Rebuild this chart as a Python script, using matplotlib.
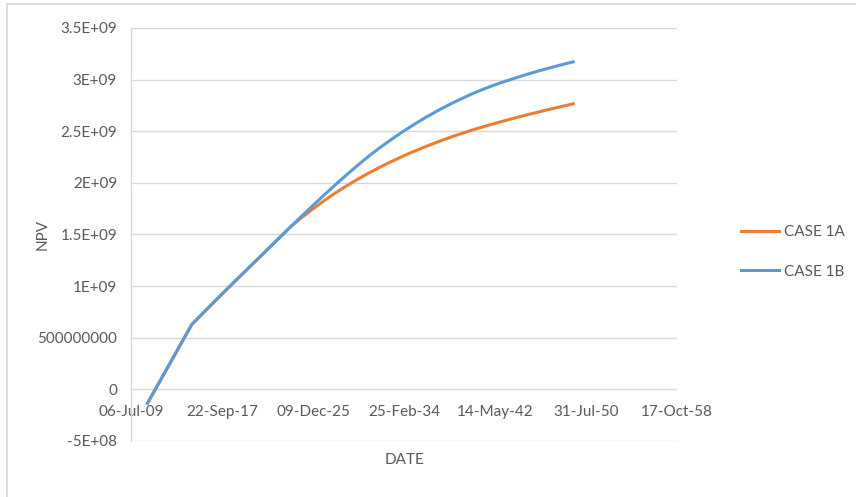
import datetime as dt
import matplotlib
matplotlib.use("Agg")
import matplotlib.pyplot as plt
import matplotlib.dates as mdates
from matplotlib.lines import Line2D

# NPV per case, one point per year (1 Jan), last point part way through 2049
dates = [dt.datetime(y, 1, 1) for y in range(2011, 2049)] + [dt.datetime(2049, 6, 1)]

shared = [-1.35e8, 0.56e8, 2.47e8, 4.38e8, 6.29e8, 7.37e8, 8.45e8, 9.52e8,
          1.058e9, 1.163e9, 1.268e9, 1.373e9, 1.478e9, 1.583e9]
case_1a = shared + [1.671e9, 1.754e9, 1.832e9, 1.905e9, 1.973e9, 2.037e9,
                    2.097e9, 2.153e9, 2.206e9, 2.256e9, 2.303e9, 2.347e9,
                    2.389e9, 2.429e9, 2.466e9, 2.501e9, 2.534e9, 2.565e9,
                    2.595e9, 2.624e9, 2.652e9, 2.679e9, 2.705e9, 2.730e9,
                    2.766e9]
case_1b = shared + [1.686e9, 1.788e9, 1.888e9, 1.986e9, 2.081e9, 2.173e9,
                    2.261e9, 2.343e9, 2.42e9, 2.493e9, 2.562e9, 2.627e9,
                    2.688e9, 2.745e9, 2.798e9, 2.848e9, 2.894e9, 2.936e9,
                    2.974e9, 3.009e9, 3.043e9, 3.075e9, 3.105e9, 3.134e9,
                    3.172e9]

y_ticks = [-5e8, 0, 5e8, 1e9, 1.5e9, 2e9, 2.5e9, 3e9, 3.5e9]
y_tick_labels = ['-5E+08', '0', '500000000', '1E+09', '1.5E+09', '2E+09',
                 '2.5E+09', '3E+09', '3.5E+09']

x_start = dt.datetime(2009, 7, 6)
x_ticks = [x_start + dt.timedelta(days=3000 * i) for i in range(7)]

orange = '#ED7D31'
blue = '#5B9BD5'
grid = '#D9D9D9'
text = '#595959'

plt.rcParams['font.family'] = ['Lato', 'DejaVu Sans']

fig = plt.figure(figsize=(8.56, 4.97), dpi=100)
ax = fig.add_axes([0.153, 0.1127, 0.638, 0.831])

ax.plot(dates, case_1a, color=orange, linewidth=2.2, label='CASE 1A', zorder=3)
ax.plot(dates, case_1b, color=blue, linewidth=2.2, label='CASE 1B', zorder=4)

ax.set_xlim(x_ticks[0], x_ticks[-1])
ax.set_ylim(-5e8, 3.5e9)
ax.set_xticks(x_ticks)
ax.xaxis.set_major_formatter(mdates.DateFormatter('%d-%b-%y'))
ax.set_yticks(y_ticks)
ax.set_yticklabels(y_tick_labels)

# horizontal axis crosses at zero, its line hidden behind the gridline
ax.spines['bottom'].set_position(('data', 0))
ax.spines['bottom'].set_visible(False)
ax.spines['top'].set_visible(False)
ax.spines['right'].set_visible(False)
ax.spines['left'].set_color(grid)
ax.spines['left'].set_linewidth(1.0)

ax.grid(axis='y', color=grid, linewidth=1.0)
ax.set_axisbelow(True)
ax.tick_params(axis='both', length=0, labelsize=11, labelcolor=text)
ax.tick_params(axis='y', pad=10)
ax.tick_params(axis='x', pad=11)

ax.set_xlabel('DATE', fontsize=11, color=text)
ax.xaxis.set_label_coords(0.5, -0.029)
ax.set_ylabel('NPV', fontsize=11, color=text)
ax.yaxis.set_label_coords(-0.149, 0.5)

handles = [Line2D([], [], color=orange, linewidth=2.2),
           Line2D([], [], color=blue, linewidth=2.2)]
fig.legend(handles, ['CASE 1A', 'CASE 1B'], loc='center left',
           bbox_to_anchor=(0.866, 0.493), frameon=False, fontsize=11,
           handlelength=2.5, handletextpad=0.3, labelspacing=1.65,
           labelcolor=text, borderaxespad=0, borderpad=0)

# chart area border (top and left edges)
fig.add_artist(Line2D([7 / 856, 1], [1 - 4 / 497, 1 - 4 / 497],
                      transform=fig.transFigure, color=grid, linewidth=1.2))
fig.add_artist(Line2D([7 / 856, 7 / 856], [0, 1 - 4 / 497],
                      transform=fig.transFigure, color=grid, linewidth=1.2))

fig.savefig('out.png', dpi=100)
